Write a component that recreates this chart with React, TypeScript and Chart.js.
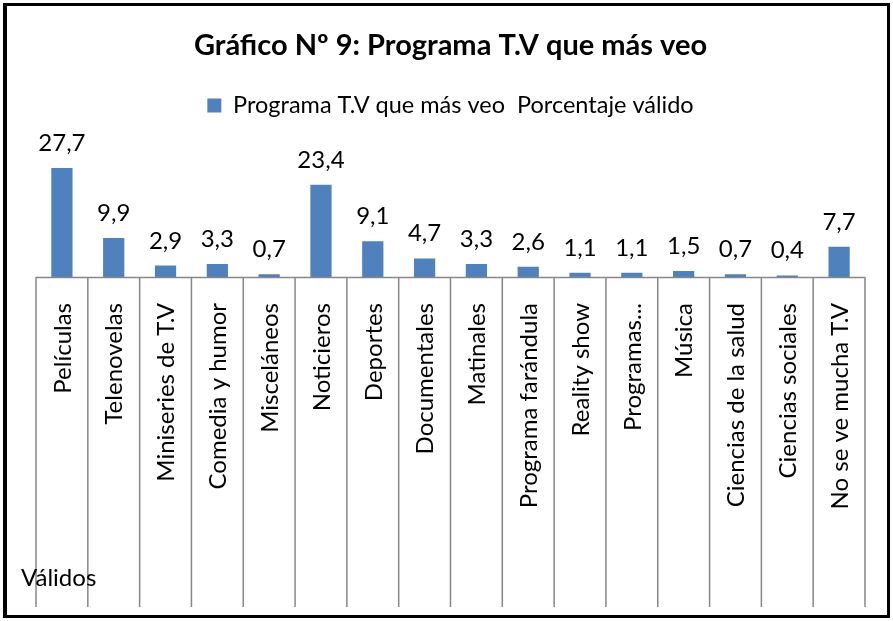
import React, { useEffect, useRef } from "react";
import { Chart, registerables } from "chart.js";

Chart.register(...registerables);

const categories = [
  "Películas",
  "Telenovelas",
  "Miniseries de T.V",
  "Comedia y humor",
  "Misceláneos",
  "Noticieros",
  "Deportes",
  "Documentales",
  "Matinales",
  "Programa farándula",
  "Reality show",
  "Programas...",
  "Música",
  "Ciencias de la salud",
  "Ciencias sociales",
  "No se ve mucha T.V",
];
const values = [27.7, 9.9, 2.9, 3.3, 0.7, 23.4, 9.1, 4.7, 3.3, 2.6, 1.1, 1.1, 1.5, 0.7, 0.4, 7.7];
const seriesName = "Programa T.V que más veo  Porcentaje válido";
const chartTitle = "Gráfico Nº 9: Programa T.V que más veo";
const outerLabel = "Válidos";

const FONT = "Lato, 'Open Sans', sans-serif";
const BAR = "#4F81BD";

const fmt = (v: number) => v.toFixed(1).replace(".", ",");

const decorPlugin = {
  id: "decor",
  beforeDraw(chart: any) {
    const { ctx, width, height } = chart;
    ctx.save();
    ctx.fillStyle = "#ffffff";
    ctx.fillRect(0, 0, width, height);
    ctx.restore();
  },
  afterDraw(chart: any) {
    const { ctx, chartArea } = chart;
    const xs = chart.scales.x;
    const n = categories.length;
    const cw = (chartArea.right - chartArea.left) / n;
    const bottomY = 607;
    ctx.save();
    // axis line
    ctx.strokeStyle = "#878787";
    ctx.lineWidth = 1.5;
    ctx.beginPath();
    ctx.moveTo(chartArea.left, chartArea.bottom + 0.5);
    ctx.lineTo(chartArea.right, chartArea.bottom + 0.5);
    ctx.stroke();
    // category separators
    ctx.lineWidth = 1.5;
    for (let i = 0; i <= n; i++) {
      const x = i < n ? xs.getPixelForValue(i) - cw / 2 : xs.getPixelForValue(n - 1) + cw / 2;
      ctx.beginPath();
      ctx.moveTo(x, chartArea.bottom);
      ctx.lineTo(x, bottomY);
      ctx.stroke();
    }
    // category labels (rotated)
    ctx.fillStyle = "#000000";
    ctx.font = `24px ${FONT}`;
    ctx.textAlign = "right";
    ctx.textBaseline = "middle";
    for (let i = 0; i < n; i++) {
      const x = xs.getPixelForValue(i);
      ctx.save();
      ctx.translate(x, chartArea.bottom + 26);
      ctx.rotate(-Math.PI / 2);
      ctx.fillText(categories[i], 0, 1);
      ctx.restore();
    }
    // data labels
    const meta = chart.getDatasetMeta(0);
    ctx.font = `24px ${FONT}`;
    ctx.textAlign = "center";
    ctx.textBaseline = "alphabetic";
    meta.data.forEach((bar: any, i: number) => {
      ctx.fillText(fmt(values[i]), bar.x, bar.y - 17);
    });
    // outer level label
    ctx.font = `24px ${FONT}`;
    ctx.textAlign = "left";
    ctx.fillText(outerLabel, 21, 586);
    // frame
    ctx.fillStyle = "#000000";
    ctx.fillRect(3, 3, 887, 3); // top
    ctx.fillRect(3, 3, 4, 615); // left
    ctx.fillRect(3, 615, 887, 3); // bottom
    ctx.fillRect(887, 3, 3, 615); // right
    ctx.restore();
  },
};

export default function App() {
  const ref = useRef<HTMLCanvasElement | null>(null);
  useEffect(() => {
    if (!ref.current) return;
    const chart = new Chart(ref.current, {
      type: "bar",
      data: {
        labels: categories,
        datasets: [
          {
            label: seriesName,
            data: values,
            backgroundColor: BAR,
            borderWidth: 0,
            categoryPercentage: 1,
            barPercentage: 0.41,
          },
        ],
      },
      options: {
        responsive: false,
        animation: false,
        devicePixelRatio: 1,
        layout: { padding: { left: 36, right: 28, top: 0, bottom: 344 } },
        scales: {
          x: { display: false },
          y: { display: false, min: 0, max: 38 },
        },
        plugins: {
          tooltip: { enabled: false },
          title: {
            display: true,
            text: chartTitle,
            color: "#000000",
            font: { family: FONT, size: 29, weight: "bold" },
            padding: { top: 28, bottom: 21 },
          },
          legend: {
            display: true,
            labels: {
              color: "#000000",
              font: { family: FONT, size: 23.5 },
              boxWidth: 14,
              boxHeight: 14,
              padding: 10,
            },
          },
        },
      },
      plugins: [decorPlugin],
    });
    return () => chart.destroy();
  }, []);
  return (
    <div style={{ position: "absolute", left: 0, top: 0, width: 893, height: 621 }}>
      <canvas ref={ref} width={893} height={621} />
    </div>
  );
}
